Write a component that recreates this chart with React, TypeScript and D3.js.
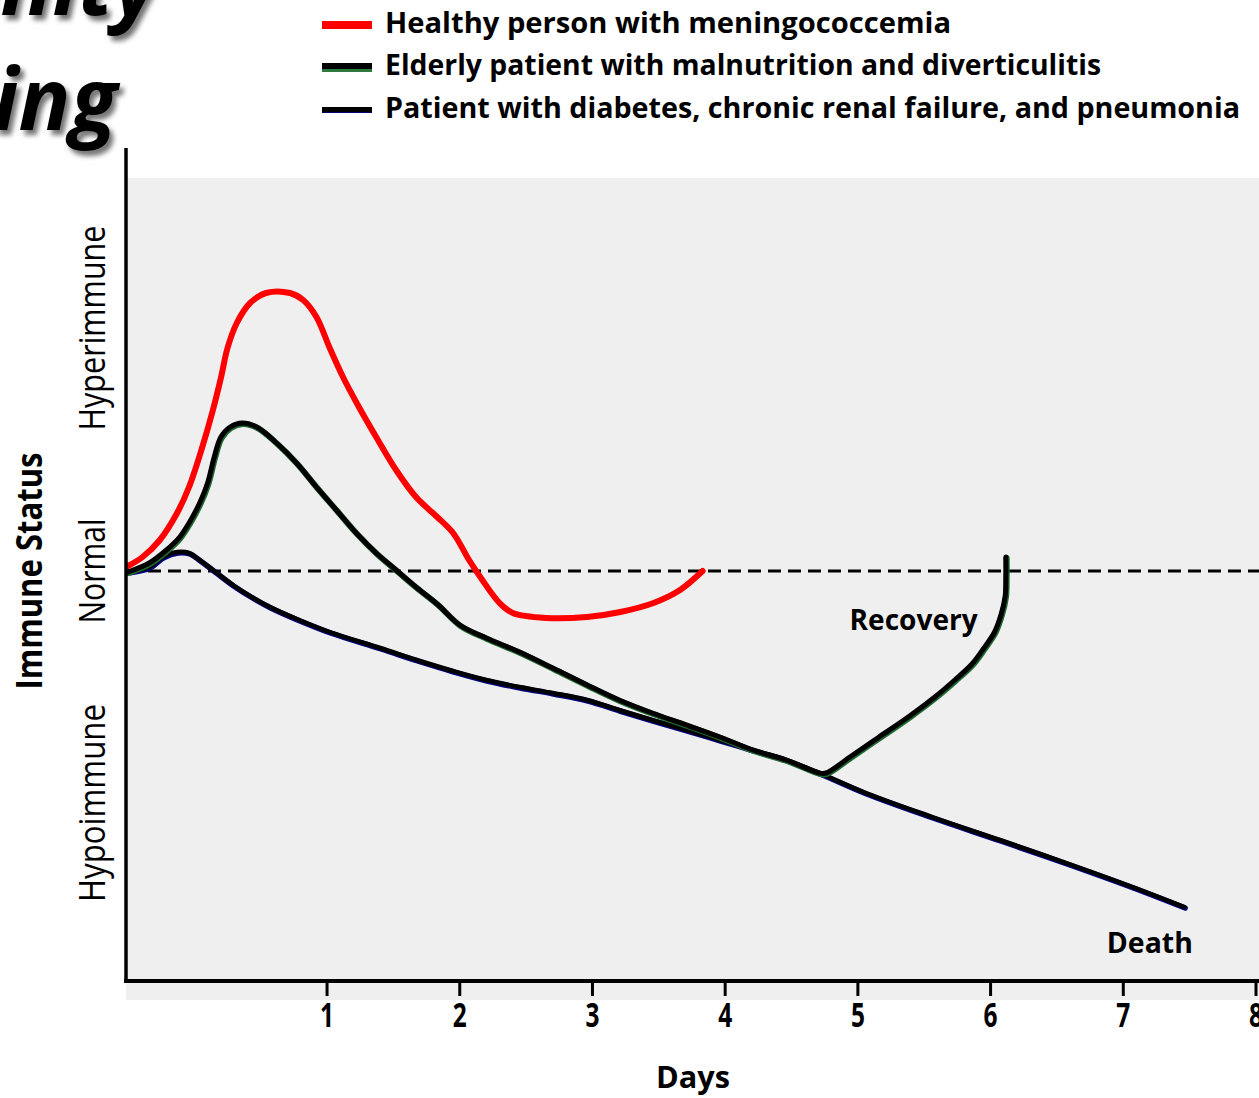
import React from 'react';
import * as d3 from 'd3';

// ---- Data (days, immune status: 0 = normal, + hyper, - hypo) ----
const dayTicks = [1, 2, 3, 4, 5, 6, 7, 8];

const healthyDays = [-0.5, -0.39, -0.26, -0.13, -0.04, 0.06, 0.14, 0.2, 0.25, 0.32, 0.42, 0.54, 0.72, 0.82, 0.92, 1.02, 1.12, 1.24, 1.37, 1.52, 1.67, 1.83, 1.95, 2.07, 2.17, 2.3, 2.4, 2.65, 2.96, 3.21, 3.46, 3.66, 3.83];
const healthyStatus = [0.05, 0.14, 0.31, 0.58, 0.84, 1.24, 1.61, 1.93, 2.23, 2.48, 2.68, 2.78, 2.78, 2.71, 2.54, 2.23, 1.94, 1.64, 1.34, 1.01, 0.74, 0.54, 0.38, 0.11, -0.09, -0.32, -0.42, -0.47, -0.46, -0.41, -0.32, -0.19, 0.0];

const elderlyDays = [-0.5, -0.34, -0.21, -0.11, -0.04, 0.04, 0.1, 0.15, 0.2, 0.27, 0.36, 0.47, 0.62, 0.77, 0.92, 1.07, 1.22, 1.37, 1.52, 1.67, 1.83, 2.0, 2.2, 2.45, 2.7, 2.96, 3.2, 3.45, 3.71, 3.96, 4.21, 4.46, 4.71, 4.76, 4.94, 5.16, 5.39, 5.58, 5.73, 5.86, 5.95, 6.03, 6.08, 6.11, 6.115, 6.115];
const elderlyStatus = [-0.01, 0.08, 0.21, 0.34, 0.48, 0.68, 0.88, 1.14, 1.34, 1.44, 1.48, 1.44, 1.28, 1.08, 0.84, 0.61, 0.38, 0.18, 0.01, -0.16, -0.33, -0.54, -0.67, -0.81, -0.97, -1.14, -1.29, -1.42, -1.54, -1.66, -1.79, -1.89, -2.02, -2.02, -1.86, -1.66, -1.45, -1.26, -1.09, -0.93, -0.77, -0.61, -0.43, -0.25, -0.06, 0.14];

const diabetesDays = [-0.5, -0.34, -0.24, -0.13, -0.04, 0.04, 0.15, 0.29, 0.42, 0.57, 0.79, 1.02, 1.4, 1.7, 1.95, 2.2, 2.45, 2.7, 2.96, 3.2, 3.45, 3.71, 3.96, 4.21, 4.46, 4.71, 5.06, 5.56, 6.07, 6.57, 7.07, 7.46];
const diabetesStatus = [-0.01, 0.04, 0.14, 0.19, 0.18, 0.11, 0.0, -0.14, -0.25, -0.36, -0.49, -0.61, -0.77, -0.9, -1.0, -1.09, -1.16, -1.22, -1.29, -1.39, -1.49, -1.59, -1.69, -1.79, -1.89, -2.02, -2.22, -2.46, -2.69, -2.92, -3.16, -3.36];

const legendLabels = [
  'Healthy person with meningococcemia',
  'Elderly patient with malnutrition and diverticulitis',
  'Patient with diabetes, chronic renal failure, and pneumonia',
];
const statusLabels = ['Hyperimmune', 'Normal', 'Hypoimmune'];
const statusLabelValues = [2.43, 0, -2.32];

const zip = (a: number[], b: number[]): [number, number][] => a.map((v, i) => [v, b[i]]);

export default function App() {
  const W = 1259;
  const H = 1098;
  const x = d3.scaleLinear().domain([-0.515, 8]).range([126, 1256]);
  const y = d3.scaleLinear().domain([-4.09, 3.93]).range([980, 178]);
  const line = d3
    .line<[number, number]>()
    .x((d) => x(d[0]))
    .y((d) => y(d[1]))
    .curve(d3.curveCatmullRom.alpha(0.5));

  const healthy = line(zip(healthyDays, healthyStatus)) || '';
  const elderly = line(zip(elderlyDays, elderlyStatus)) || '';
  const diabetes = line(zip(diabetesDays, diabetesStatus)) || '';

  const font = "'Open Sans', 'DejaVu Sans', sans-serif";
  const legendWidths = [566, 716, 855];
  const legendBaselines = [33, 75, 118];
  const statusLengths = [205, 105, 198];

  return (
    <svg
      width={W}
      height={H}
      style={{ position: 'absolute', left: 0, top: 0, background: '#fff' }}
      fontFamily={font}
    >
      <defs>
        <filter id="shadow" x="-20%" y="-20%" width="140%" height="140%">
          <feDropShadow dx="4" dy="5" stdDeviation="2.5" floodColor="#000" floodOpacity="0.55" />
        </filter>
      </defs>

      {/* Title fragments */}
      <g fontStyle="italic" fontWeight={700} fontSize={86} filter="url(#shadow)">
        <text x={158} y={15} textAnchor="end">Immunity</text>
        <text x={117} y={130} textAnchor="end">Timing</text>
      </g>

      {/* Legend */}
      <g>
        <rect x={322} y={21} width={50} height={8} fill="#ff0000" />
        <rect x={322} y={67} width={50} height={5} fill="#2e7a3e" />
        <rect x={322} y={63} width={50} height={6} fill="#000" />
        <rect x={322} y={109} width={50} height={4} fill="#00006e" />
        <rect x={322} y={107} width={50} height={5} fill="#000" />
        {legendLabels.map((t, i) => (
          <text
            key={t}
            x={385}
            y={legendBaselines[i]}
            fontSize={28}
            fontWeight={700}
            textLength={legendWidths[i]}
            lengthAdjust="spacingAndGlyphs"
          >
            {t}
          </text>
        ))}
      </g>

      {/* Plot background */}
      <rect x={126} y={y(3.93)} width={W - 126} height={1000 - y(3.93)} fill="#efefef" />

      {/* Normal reference line */}
      <line
        x1={x(-0.5)}
        x2={W}
        y1={y(0)}
        y2={y(0)}
        stroke="#000"
        strokeWidth={3}
        strokeDasharray="13 7"
      />

      {/* Curves */}
      <path d={diabetes} fill="none" stroke="#00007a" strokeWidth={5.5} transform="translate(0.8,1)" strokeLinecap="round" />
      <path d={diabetes} fill="none" stroke="#000" strokeWidth={4.5} strokeLinecap="round" />
      <path d={elderly} fill="none" stroke="#1f6a30" strokeWidth={6} transform="translate(0.8,1)" strokeLinecap="round" />
      <path d={elderly} fill="none" stroke="#000" strokeWidth={5} strokeLinecap="round" />
      <path d={healthy} fill="none" stroke="#ff0000" strokeWidth={6} strokeLinecap="round" />

      {/* Annotations */}
      <text x={x(5.42)} y={y(-0.49) + 10} textAnchor="middle" fontSize={28} fontWeight={700} textLength={128} lengthAdjust="spacingAndGlyphs">
        Recovery
      </text>
      <text x={x(7.2)} y={y(-3.71) + 11} textAnchor="middle" fontSize={28} fontWeight={700} textLength={86} lengthAdjust="spacingAndGlyphs">
        Death
      </text>

      {/* Axes */}
      <line x1={126} x2={126} y1={148} y2={983} stroke="#000" strokeWidth={3.5} />
      <line x1={124} x2={W} y1={981} y2={981} stroke="#000" strokeWidth={4} />
      {dayTicks.map((d) => (
        <g key={d}>
          <line x1={x(d)} x2={x(d)} y1={981} y2={996} stroke="#000" strokeWidth={3} />
          <text x={x(d)} y={1027} textAnchor="middle" fontSize={34} fontWeight={700} textLength={14} lengthAdjust="spacingAndGlyphs">
            {d}
          </text>
        </g>
      ))}
      <text x={693} y={1088} textAnchor="middle" fontSize={30} fontWeight={700} textLength={74} lengthAdjust="spacingAndGlyphs">
        Days
      </text>

      {/* Y labels */}
      {statusLabels.map((t, i) => (
        <text
          key={t}
          transform={`translate(105,${y(statusLabelValues[i])}) rotate(-90)`}
          textAnchor="middle"
          fontSize={36}
          textLength={statusLengths[i]}
          lengthAdjust="spacingAndGlyphs"
        >
          {t}
        </text>
      ))}
      <text
        transform={`translate(42,${y(0)}) rotate(-90)`}
        textAnchor="middle"
        fontSize={36}
        fontWeight={700}
        textLength={237}
        lengthAdjust="spacingAndGlyphs"
      >
        Immune Status
      </text>
    </svg>
  );
}
